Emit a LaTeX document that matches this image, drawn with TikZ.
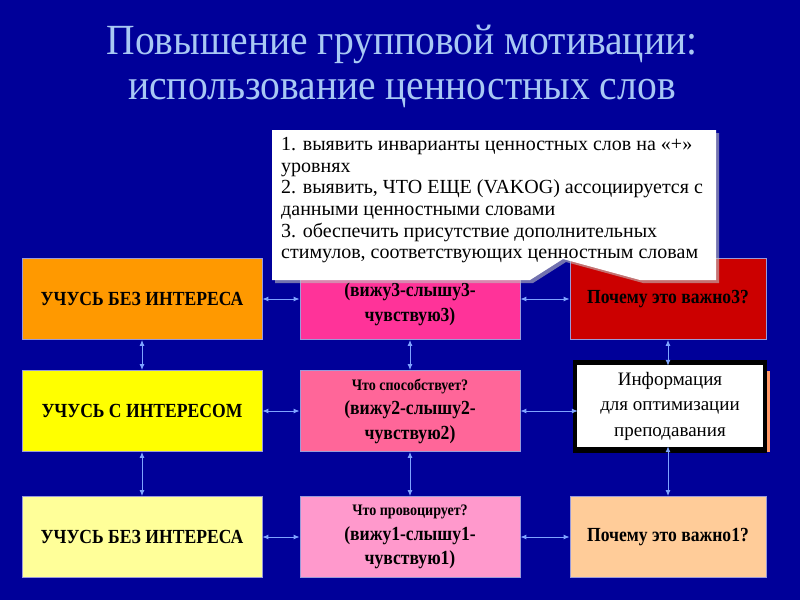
\documentclass[tikz,border=0pt]{standalone}
\usepackage{fontspec}
\setmainfont{Liberation Serif}
\newfontfamily\narrowserif{Liberation Serif}[FakeStretch=0.88]
\newfontfamily\titleserif{Liberation Serif}[FakeStretch=0.92]
\usetikzlibrary{arrows.meta}
\definecolor{bg}{HTML}{000099}
\definecolor{titlec}{HTML}{A8C8F4}
\definecolor{linkc}{HTML}{7FA4FF}
\definecolor{boxedge}{HTML}{9A9ADA}
\newcommand\smallfirst{\fontsize{16}{24.5}\selectfont}
\tikzset{
  cell/.style={draw=boxedge, line width=0.8pt, minimum width=#1, minimum height=81pt, inner sep=0pt, align=center, font=\narrowserif\bfseries\fontsize{20}{24.5}\selectfont, text=black},
  link/.style={draw=linkc, line width=1pt, {Latex[length=6pt,width=5pt]}-{Latex[length=6pt,width=5pt]}},
}
\begin{document}
\begin{tikzpicture}[x=1pt,y=-1pt]
\fill[bg] (0,0) rectangle (800,600);
\useasboundingbox (0,0) rectangle (800,600);
% title
\node[text=titlec, font=\titleserif\fontsize{43}{45}\selectfont, align=center] (title) at (402,66) {Повышение групповой мотивации:\\использование ценностных слов};
% row 1
\node[cell=240pt, fill={rgb,255:red,255;green,153;blue,0}] (a1) at (142,299) {УЧУСЬ БЕЗ ИНТЕРЕСА};
\node[cell=220pt, fill={rgb,255:red,255;green,51;blue,153}] (b1) at (410,299) {\smallfirst\\(вижу3-слышу3-\\чувствую3)};
\node[cell=196pt, fill={rgb,255:red,204;green,0;blue,0}] (c1) at (668,299) {Почему это важно3?};
% row 2
\node[cell=240pt, fill={rgb,255:red,255;green,255;blue,0}] (a2) at (142,411) {УЧУСЬ С ИНТЕРЕСОМ};
\node[cell=220pt, fill={rgb,255:red,255;green,102;blue,153}] (b2) at (410,411) {{\smallfirst Что способствует?}\\(вижу2-слышу2-\\чувствую2)};
\node[cell=170pt, fill={rgb,255:red,255;green,153;blue,102}, draw=none] (c2) at (685,411) {};
\fill[black] (573,360) rectangle (767,453);
\node[draw=gray, double=white, double distance=1.2pt, fill=white, minimum width=184pt, minimum height=80pt, inner sep=0pt, align=center, font=\fontsize{19}{25.5}\selectfont] (info) at (670,406) {Информация\\для оптимизации\\преподавания};
% row 3
\node[cell=240pt, fill={rgb,255:red,255;green,255;blue,153}] (a3) at (142,537) {УЧУСЬ БЕЗ ИНТЕРЕСА};
\node[cell=220pt, fill={rgb,255:red,255;green,153;blue,204}] (b3) at (410,537) {{\smallfirst Что провоцирует?}\\(вижу1-слышу1-\\чувствую1)};
\node[cell=196pt, fill={rgb,255:red,255;green,204;blue,153}] (c3) at (668,537) {Почему это важно1?};
% connectors
\draw[link] (a1.east) -- (b1.west);
\draw[link] (b1.east) -- (c1.west);
\draw[link] (a2.east) -- (b2.west);
\draw[link] (b2.east) -- (b2.east -| info.west);
\draw[link] (a3.east) -- (b3.west);
\draw[link] (b3.east) -- (c3.west);
\draw[link] (a1.south) -- (a2.north);
\draw[link] (a2.south) -- (a3.north);
\draw[link] (b1.south) -- (b2.north);
\draw[link] (b2.south) -- (b3.north);
\draw[link] (c1.south) -- (c1.south |- info.north);
\draw[link] (c3.north |- info.south) -- (c3.north);
% callout
\fill[black!25, opacity=0.6] (275,133) -- (719,133) -- (719,283) -- (643,283) -- (566,262) -- (533,283) -- (275,283) -- cycle;
\fill[white] (272,130) -- (716,130) -- (716,280) -- (640,280) -- (563,259) -- (530,280) -- (272,280) -- cycle;
\node[anchor=north west, inner sep=0pt, align=left, font=\fontsize{20}{21.7}\selectfont, text=black] (callout) at (281,137) {1. выявить инварианты ценностных слов на «+»\\уровнях\\2. выявить, ЧТО ЕЩЕ (VAKOG) ассоциируется с\\данными ценностными словами\\3. обеспечить присутствие дополнительных\\стимулов, соответствующих ценностным словам};
\end{tikzpicture}
\end{document}
